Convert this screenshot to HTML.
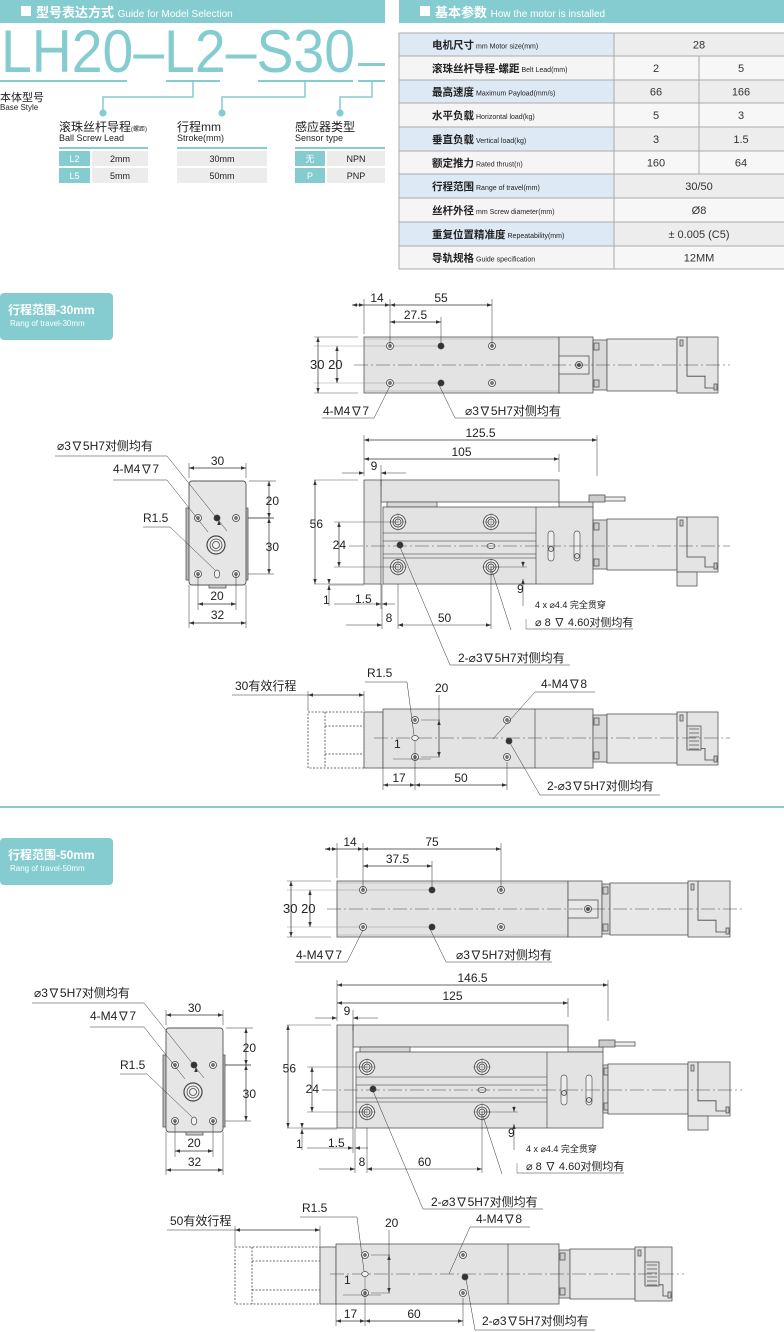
<!DOCTYPE html>
<html><head><meta charset="utf-8">
<style>
html,body{margin:0;padding:0;background:#fff;}
svg{display:block;font-family:"Liberation Sans","Noto Sans CJK SC",sans-serif;}
</style></head>
<body>
<div id="root"></div>
<script>
const s=[];const TE='#85ccd1';
function L(a,b,c,d,w,col,dash){s.push(`<line x1="${a}" y1="${b}" x2="${c}" y2="${d}" stroke="${col||'#333'}" stroke-width="${w||0.7}" ${dash?`stroke-dasharray="${dash}"`:''}/>`);}
function R(x,y,w,h,f,st,sw,rx){s.push(`<rect x="${x}" y="${y}" width="${w}" height="${h}" fill="${f||'none'}" stroke="${st===undefined?'#555':st}" stroke-width="${sw||0.8}" ${rx?`rx="${rx}"`:''}/>`);}
function C(x,y,r,f,st,sw){s.push(`<circle cx="${x}" cy="${y}" r="${r}" fill="${f||'none'}" stroke="${st||'#444'}" stroke-width="${sw||0.8}"/>`);}
function T(x,y,t,sz,anc,col,ex){s.push(`<text x="${x}" y="${y}" font-size="${sz||12}" text-anchor="${anc||'start'}" fill="${col||'#222'}" ${ex||''}>${t}</text>`);}
function A(x,y,d){const k=5,w=1.7;let p;
 if(d=='l')p=`${x},${y} ${x+k},${y-w} ${x+k},${y+w}`;
 if(d=='r')p=`${x},${y} ${x-k},${y-w} ${x-k},${y+w}`;
 if(d=='u')p=`${x},${y} ${x-w},${y+k} ${x+w},${y+k}`;
 if(d=='d')p=`${x},${y} ${x-w},${y-k} ${x+w},${y-k}`;
 s.push(`<polygon points="${p}" fill="#333"/>`);}
function H(x1,x2,y,t,tx,ty){L(x1,y,x2,y);A(x1,y,'l');A(x2,y,'r');if(t)T(tx??(x1+x2)/2,ty??y-3,t,12,'middle');}
function V(x,y1,y2,t,tx,ty){L(x,y1,x,y2);A(x,y1,'u');A(x,y2,'d');if(t)T(tx??x-3,ty??(y1+y2)/2+4,t,12,'end');}
function P(d,f,st,sw,dash){s.push(`<path d="${d}" fill="${f||'none'}" stroke="${st||'#444'}" stroke-width="${sw||0.8}" ${dash?`stroke-dasharray="${dash}"`:''}/>`);}
const BODY='#e3e3e3';
function hole(x,y){C(x,y,3.5,'#f2f2f2');C(x,y,1.3,'#999');}
function pin(x,y){C(x,y,3,'#333');}
function bigHole(x,y){C(x,y,7.5,'#eee');C(x,y,5);C(x,y,3);L(x-9,y,x+9,y,0.4,'#666');L(x,y-9,x,y+9,0.4,'#666');}
function motor(xb,xm,xc,xe,y0,y1,cy,conn){
 R(xb,y0+3,xm-xb,y1-y0-6,'#d9d9d9');
 R(xb+1,y0+6,5,7,'#ccc');R(xb+1,y1-13,5,7,'#ccc');
 R(xm,y0+2,xc-xm,y1-y0-4,'#e8e8e8');
 R(xc,y0,xe-xc,y1-y0,'#e4e4e4');
 P(`M${xc+10} ${y0} L${xc+10} ${cy+(y1-y0)*0.2} L${xc+28} ${cy+(y1-y0)*0.2} L${xc+28} ${y1-5} L${xe} ${y1-5}`);
 R(xc+3,y0+3,3,6,'#ccc');R(xe-4,y1-9,3,6,'#ccc');
 if(conn){R(xc+10,cy-12,14,24,'#ddd');for(let i=0;i<6;i++)L(xc+12,cy-9+i*4,xc+22,cy-9+i*4,0.6);}
}
function topView(p){const{x0,x1,xb,xm,xc,xe,y0,y1,cy,hx,hy,lab,dy,o}=p;
 R(x0,y0,x1-x0,y1-y0,BODY);L(x0,y0+2,x1,y0+2,0.4,'#999');L(x0,y1-2,x1,y1-2,0.4,'#999');
 R(x1,y0,xb-x1,y1-y0,BODY);R(x1,cy-9,30,18,'#e8e8e8');C(x1+20,cy,3.5,'#ddd');C(x1+20,cy,1.5,'#555');
 R(xb,cy-4,28,8,'#ccc');R(xb+28,cy-2,10,4,'#eee');
 motor(xb,xm,xc,xe,y0,y1,cy,false);
 L(x0-10,cy,xe+12,cy,0.5,'#444','14 3 2 3');
 for(const yy of hy){L(x0-50,yy,hx[1],yy,0.4,'#888');}
 hole(hx[0],hy[0]);hole(hx[0],hy[1]);pin(hx[1],hy[0]);pin(hx[1],hy[1]);hole(hx[2],hy[0]);hole(hx[2],hy[1]);
 L(x0,y0-3,x0,dy-6,0.5);L(hx[0],hy[0],hx[0],dy-6,0.5);L(hx[1],hy[0],hx[1],dy+12,0.5);L(hx[2],hy[0],hx[2],dy-6,0.5);
 H(x0-12,hx[0],dy);A(x0,dy,'r');T((x0+hx[0])/2,dy-3,'14',12,'middle');
 H(hx[0],hx[2],dy,lab[0]);H(hx[0],hx[1],dy+17,lab[1]);
 L(x0-50,y0,x0-6,y0,0.4);L(x0-50,y1,x0-6,y1,0.4);
 V(x0-46,y0,y1);V(x0-27,hy[0],hy[1]);T(x0-54,cy+4,'30 20',13);
 T(x0-41,y1+22,'4-M4∇7',12);L(x0-42,y1+25,x0+10,y1+25,0.5);L(x0+10,y1+25,hx[0],hy[1]+3,0.5);
 T(hx[1]+24,y1+22,'⌀3∇5H7对侧均有',12);L(hx[1]+14,y1+25,hx[1]+120,y1+25,0.5);L(hx[1]+14,y1+25,hx[1]-2,hy[1]+2,0.5);
}
function sideView(p){const{x0,xp,xl,xr,xtp,xb,xm,xc,xe,yt,ypb,ylt,yb,cy,h,hy,sl,dA,dB,lA,lB,l2}=p;
 R(xp,yt,xtp-xp,ypb-yt,BODY);R(xtp,ypb,xb-xtp,ylt-ypb,BODY);
 R(xl+4,ypb,50,ylt-ypb,'#d8d8d8');
 R(x0,yt,xp-x0,yb-yt,BODY);
 R(xl,ylt,xb-xl,yb-ylt,BODY);L(xr,ylt,xr,yb,0.6);
 for(const yy of [cy-13,cy-5,cy+8,cy+12])L(xl,yy,xr,yy,0.6);
 h.forEach(x=>hy.forEach(y=>bigHole(x,y)));
 pin(xl+17,cy-1);s.push(`<ellipse cx="${h[1]}" cy="${cy}" rx="4" ry="2.5" fill="#eee" stroke="#444" stroke-width="0.7"/>`);
 sl.forEach(x=>R(x-3,cy-15,6,30,'#eee','#555',0.7,3));C(sl[0],cy+3,2.5,'#ddd');C(sl[1],cy+10,2.5,'#ddd');
 R(xb-4,ylt-12,16,7,'#ccc');R(xb+12,ylt-10,20,4,'#eee');
 motor(xb,xm,xc,xe,ylt+10,yb-12,cy,false);R(xc,yb-12,20,14,'#e6e6e6');
 L(x0-15,cy,xe+12,cy,0.5,'#444','14 3 2 3');
 L(x0,yt-4,x0,dA-5,0.5);L(dB[0],dA-5,dB[0],yt-4,0.5);L(xtp,dB[1]-5,xtp,yt-8,0.5);L(xp,yt-15,xp,yt+6,0.5);
 H(x0,dB[0],dA,lA);H(x0,xtp,dB[1],lB);
 L(x0-22,yt-7,x0,yt-7,0.5);A(x0,yt-7,'r');L(xp,yt-7,xp+25,yt-7,0.5);A(xp,yt-7,'l');T(x0+10,yt-10,'9',12,'middle');
 L(x0-50,yt,x0-6,yt,0.4);L(x0-50,yb,x0,yb,0.4);L(x0-30,hy[0],h[0],hy[0],0.4);L(x0-30,hy[1],h[0],hy[1],0.4);
 V(x0-49,yt,yb,'56',x0-41,(yt+yb)/2-4);V(x0-25,hy[0],hy[1],'24',x0-18,cy+3);
 L(x0-35,yb+1,x0,yb+1,0.4);L(x0-35,yb-5,x0-35,yb,0.5);A(x0-35,yb,'d');L(x0-35,yb+1,x0-35,yb+22,0.5);A(x0-35,yb+1,'u');T(x0-41,yb+20,'1',12);
 L(xl-1,yb,xl-1,yb+45,0.5);L(xp,yb,xp,yb+25,0.5);L(h[0],yb,h[0],yb+45,0.5);L(h[1],hy[1],h[1],yb+45,0.5);
 L(x0-30,yb+20,xp,yb+20,0.5);A(xp,yb+20,'r');L(xl-1,yb+20,xl+12,yb+20,0.5);A(xl-1,yb+20,'l');T(x0-9,yb+19,'1.5',12);
 L(x0-18,yb+41,xl-1,yb+41,0.5);A(xl-1,yb+41,'r');A(h[0],yb+41,'l');T(xl+6,yb+38,'8',12,'middle');
 L(h[0],yb+41,h[1],yb+41,0.5);A(h[0],yb+41,'l');A(h[1],yb+41,'r');T((h[0]+h[1])/2,yb+38,l2,12,'middle');
 const nx=h[1]+32;L(h[1],hy[1],nx+4,hy[1],0.4);L(nx,hy[1]-6,nx,hy[1],0.5);A(nx,hy[1],'d');L(nx,hy[1]+12,nx,yb+22,0.5);A(nx,hy[1]+12,'u');T(nx-6,yb+9,'9',12);
 T(nx+12,yb+24,'4 x ⌀4.4 完全贯穿',9);
 L(nx+3,yb+35,nx+3,yb+45,0.4);L(nx+3,yb+45,nx+110,yb+45,0.5);T(nx+12,yb+42,'⌀ 8 ∇ 4.60对侧均有',11);
 L(h[1]+1,hy[1]+4,h[1]+20,yb+46,0.5);
 const ly=yb+81;L(xl+17,cy+1,xl+67,ly,0.5);L(xl+67,ly,xl+187,ly,0.5);T(xl+75,ly-3,'2-⌀3∇5H7对侧均有',12);
}
function endView(ox,oy){const x0=189+ox,x1=246+ox,y0=481+oy,y1=585+oy;
 R(x0-3,y0+27,4,72,'#bbb');R(x1-1,y0+27,3,72,'#bbb');
 R(x0,y0,x1-x0,y1-y0,'#e6e6e6','#555',0.9,3);R(x0+20,y1,17,3,'#ccc');
 hole(x0+9,y0+37);pin(x0+28,y0+37);hole(x0+47,y0+37);hole(x0+9,y0+93);hole(x0+47,y0+93);
 s.push(`<ellipse cx="${x0+28}" cy="${y0+93}" rx="2.7" ry="4" fill="#f2f2f2" stroke="#444" stroke-width="0.7"/>`);
 C(x0+27,y0+64,9,'#eee','#444',1.2);C(x0+27,y0+64,6);C(x0+27,y0+64,3.5);
 L(x0,y0-3,x0,y0-18,0.5);L(x1,y0-3,x1,y0-18,0.5);H(x0,x1,y0-13,'30',undefined,y0-16);
 L(x1+3,y0,x1+30,y0,0.5);L(x1+2,y0+37,x1+28,y0+37,0.8,'#222');L(x1+2,y0+93,x1+28,y0+93,0.5);
 V(x1+23,y0,y0+37,'20',x1+33,y0+24);V(x1+23,y0+37,y0+93,'30',x1+33,y0+70);
 L(x0,y1,x0,y1+43,0.5);L(x1,y1,x1,y1+43,0.5);L(x0+9,y0+93,x0+9,y1+25,0.5);L(x0+47,y0+93,x0+47,y1+25,0.5);
 H(x0+9,x0+47,y1+19,'20',undefined,y1+15);H(x0,x1,y1+38,'32',undefined,y1+34);
 T(57+ox,450+oy,'⌀3∇5H7对侧均有',12);L(55+ox,456+oy,167+ox,456+oy,0.5);L(167+ox,456+oy,x0+38,y0+50,0.5);A(x0+30,y0+39,'u');
 T(113+ox,473+oy,'4-M4∇7',12);L(113+ox,480+oy,167+ox,480+oy,0.5);L(167+ox,480+oy,x0+19,y0+51,0.5);
 T(143+ox,522+oy,'R1.5',12);L(143+ox,527+oy,170+ox,527+oy,0.5);L(170+ox,527+oy,x0+26,y0+89,0.5);
}
function botView(p){const{g0,c0,b0,b1,fm,mm,mc,me,y0,y1,cy,h,dv,lab,stroke,ox,oy}=p;
 R(g0,y0+3,c0-g0,y1-y0-3,'none','#444',0.8);s[s.length-1]=s[s.length-1].replace('/>',' stroke-dasharray="2 1.5"/>');
 P(`M${g0+17} ${y0+3} L${g0+17} ${y1}`,'none','#444',0.8,'2 1.5');P(`M${g0+17} ${y0+17} L${c0} ${y0+17} M${g0+17} ${y1-14} L${c0} ${y1-14}`,'none','#444',0.7,'2 1.5');
 R(c0,y0+3,b0-c0,y1-y0-3,'#e4e4e4');R(b0,y0,b1-b0,y1-y0,BODY);L(dv,y0,dv,y1,0.6);
 motor(b1,fm,mm,me,y0+3,y1-3,cy,true);
 L(c0+10,cy,me+12,cy,0.5,'#444','14 3 2 3');
 hole(h[0],y0+11);hole(h[0],y1-11);hole(h[1],y0+11);hole(h[1],y1-11);pin(h[1]+2,cy+3);
 s.push(`<ellipse cx="${h[0]}" cy="${cy}" rx="3.3" ry="2.5" fill="#f2f2f2" stroke="#444" stroke-width="0.7"/>`);
 L(h[0]+6,y0+11,h[0]+25,y0+11,0.4);L(h[0]+6,y1-11,h[0]+25,y1-11,0.4);V(h[0]+24,y0+11,y1-11);T(h[0]+20,y0-17,'20',12);L(h[0]+24,y0-14,h[0]+24,y0+11,0.5);
 L(h[0],cy+3,h[0],y1-6,0.4);L(h[0]-22,y1-9,h[0]+16,y1-9,0.4);T(h[0]-21,cy+10,'1',12);
 L(b0,y1,b0,y1+22,0.5);L(h[0],y1-6,h[0],y1+22,0.5);L(h[1],y1-6,h[1],y1+22,0.5);
 H(b0,h[0],y1+17,'17',undefined,y1+14);H(h[0],h[1],y1+17,lab,undefined,y1+14);
 L(g0,y0-18,g0,y0+2,0.5);L(c0,y0-18,c0,y0+2,0.5);H(g0,c0,y0-14);
 T(235+ox,690+oy,stroke,12);L(232+ox,695+oy,g0,695+oy,0.5);
 T(367+ox,677+oy,'R1.5',12);L(365+ox,682+oy,h[0]-8,682+oy,0.5);L(h[0]-8,682+oy,h[0]-1,cy-3,0.5);
 T(541+ox,688+oy,'4-M4∇8',12);L(535+ox,692+oy,595+ox,692+oy,0.5);L(535+ox,692+oy,h[1]-14,y0+30,0.5);
 T(547+ox,790+oy,'2-⌀3∇5H7对侧均有',12);L(540+ox,795+oy,660+ox,795+oy,0.5);L(540+ox,795+oy,h[1]+3,cy+5,0.5);
}
function sectionBox(y,t1,t2){s.push(`<rect x="0" y="${y}" width="113" height="47" rx="4" fill="${TE}"/>`);T(8,y+21,t1,12,'start','#fff','font-weight="bold"');T(10,y+33,t2,8,'start','#fff');}

/* HEADER */
s.push(`<rect x="0" y="0" width="385" height="23" fill="${TE}"/><rect x="399" y="0" width="385" height="23" fill="${TE}"/>`);
s.push(`<rect x="21" y="6" width="10" height="10" fill="#fff"/><rect x="420" y="6" width="10" height="10" fill="#fff"/>`);
T(36,17,'型号表达方式 <tspan font-size="10" font-weight="normal">Guide for Model Selection</tspan>',13,'start','#fff','font-weight="bold"');
T(435,17,'基本参数 <tspan font-size="10" font-weight="normal">How the motor is installed</tspan>',13,'start','#fff','font-weight="bold"');
T(1,72,'LH20–L2–S30',60,'start',TE,'textLength="354" lengthAdjust="spacingAndGlyphs"');
s.push(`<rect x="358" y="63" width="27" height="3" fill="${TE}"/>`);
[[0,127],[166,220],[258,353],[358,385]].forEach(a=>s.push(`<rect x="${a[0]}" y="80" width="${a[1]-a[0]}" height="2" fill="${TE}"/>`));
[[193,103],[305,222],[372,340]].forEach(a=>{P(`M${a[0]} 82 V97 H${a[1]} V113`,'none',TE,1.5);C(a[1],113,3.2,TE,TE);});
T(0,101,'本体型号',11,'start','#222');T(0,110,'Base Style',8);
function grp(x,w,t1,t2,rows,cw){T(x,131,t1,12);T(x,141,t2,9);s.push(`<rect x="${x}" y="147" width="${w}" height="2" fill="${TE}"/>`);
 rows.forEach((r,i)=>{const y=151+i*17;if(cw){s.push(`<rect x="${x}" y="${y}" width="${cw}" height="15" fill="${TE}"/>`);T(x+cw/2,y+11,r[0],9,'middle','#fff');}
 s.push(`<rect x="${x+(cw?cw+2:0)}" y="${y}" width="${w-(cw?cw+2:0)}" height="15" fill="#ececec"/>`);T(x+(cw?cw+2:0)+(w-(cw?cw+2:0))/2,y+11,r[1],9,'middle');});}
grp(59,89,'滚珠丝杆导程<tspan font-size="6">(螺距)</tspan>','Ball Screw Lead',[['L2','2mm'],['L5','5mm']],31);
grp(177,90,'行程mm','Stroke(mm)',[['','30mm'],['','50mm']],0);
grp(295,90,'感应器类型','Sensor type',[['无','NPN'],['P','PNP']],30);
/* TABLE */
const rows=[['电机尺寸','mm Motor size(mm)',['28']],['滚珠丝杆导程-螺距','Belt Lead(mm)',['2','5']],['最高速度','Maximum Payload(mm/s)',['66','166']],['水平负载','Horizontal load(kg)',['5','3']],['垂直负载','Vertical load(kg)',['3','1.5']],['额定推力','Rated thrust(n)',['160','64']],['行程范围','Range of travel(mm)',['30/50']],['丝杆外径','mm Screw diameter(mm)',['Ø8']],['重复位置精准度','Repeatability(mm)',['± 0.005 (C5)']],['导轨规格','Guide specification',['12MM']]];
const ys=[33,56,80,103,127,151,174,198,222,246,269];
rows.forEach((r,i)=>{const y=ys[i],h=ys[i+1]-y;const odd=i%2==0;
 s.push(`<rect x="399" y="${y}" width="215" height="${h}" fill="${odd?'#dde9f4':'#f5f5f5'}"/><rect x="614" y="${y}" width="170" height="${h}" fill="${odd?'#ededed':'#f7f7f7'}"/>`);
 T(432,y+h/2+4,`${r[0]}<tspan font-size="7" font-weight="normal" dx="2">${r[1]}</tspan>`,10.5,'start','#222','font-weight="bold"');
 if(r[2].length==1)T(699,y+h/2+4,r[2][0],11,'middle','#333');else{T(656,y+h/2+4,r[2][0],11,'middle','#333');T(741,y+h/2+4,r[2][1],11,'middle','#333');}
});
ys.forEach(y=>L(399,y,784,y,1,'#aaa'));L(399,33,399,269,1,'#aaa');L(614,33,614,269,1,'#aaa');L(699,56,699,174,1,'#aaa');
/* SECTION 1 */
sectionBox(293,'行程范围-30mm','Rang of travel-30mm');
topView({x0:364,x1:559,xb:593,xm:607,xc:677,xe:718,y0:337,y1:393,cy:365,hx:[390,441,492],hy:[346,383],lab:['55','27.5'],dy:305});
sideView({x0:364,xp:381,xl:383,xr:536,xtp:559,xb:593,xm:607,xc:677,xe:718,yt:480,ypb:502,ylt:507,yb:584,cy:546,h:[398,491],hy:[522,567],sl:[551,577],dA:440,dB:[597,459],lA:'125.5',lB:'105',l2:'50'});
endView(0,0);
botView({g0:308,c0:364,b0:383,b1:593,fm:607,mm:677,mc:677,me:718,y0:709,y1:768,cy:738,h:[415,507],dv:535,lab:'50',stroke:'30有效行程',ox:0,oy:0});
s.push(`<rect x="0" y="806" width="784" height="2" fill="${TE}"/>`);
/* SECTION 2 */
sectionBox(838,'行程范围-50mm','Rang of travel-50mm');
topView({x0:337,x1:568,xb:602,xm:610,xc:688,xe:730,y0:881,y1:937,cy:909,hx:[363,432,501],hy:[890,927],lab:['75','37.5'],dy:849});
sideView({x0:337,xp:353,xl:356,xr:547,xtp:568,xb:603,xm:608,xc:688,xe:730,yt:1025,ypb:1047,ylt:1052,yb:1128,cy:1090,h:[367,482],hy:[1067,1112],sl:[564,589],dA:985,dB:[608,1003],lA:'146.5',lB:'125',l2:'60'});
endView(-23,547);
botView({g0:235,c0:320,b0:336,b1:559,fm:570,mm:635,mc:635,me:672,y0:1244,y1:1304,cy:1274,h:[365,463],dv:508,lab:'60',stroke:'50有效行程',ox:-65,oy:535});
document.getElementById('root').innerHTML=`<svg xmlns="http://www.w3.org/2000/svg" width="784" height="1332" viewBox="0 0 784 1332">${s.join('')}</svg>`;
</script>
</body></html>
